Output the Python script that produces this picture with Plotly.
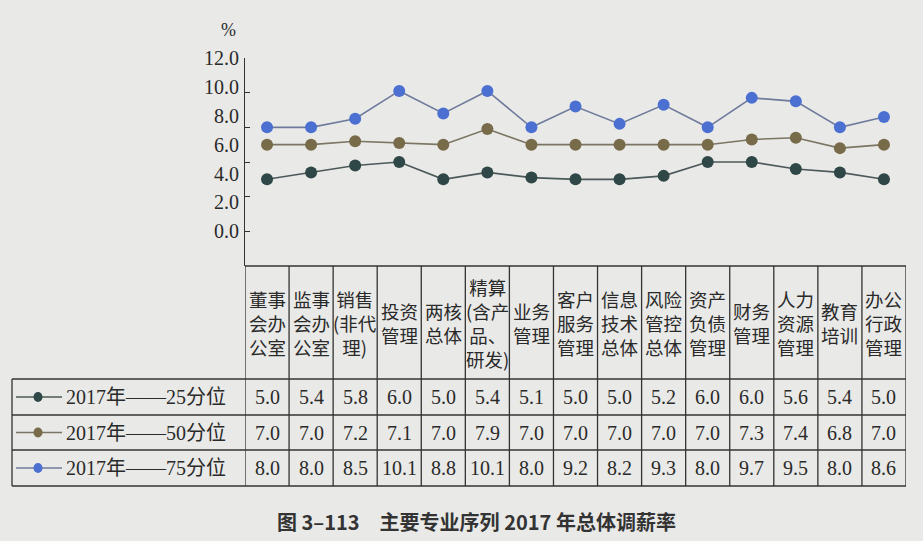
import numpy as np
import plotly.graph_objects as go

# ---------------- data ----------------
CATEGORIES = [
    "董事<br>会办<br>公室", "监事<br>会办<br>公室", "销售<br>(非代<br>理)", "投资<br>管理",
    "两核<br>总体", "精算<br>(含产<br>品、<br>研发)", "业务<br>管理", "客户<br>服务<br>管理",
    "信息<br>技术<br>总体", "风险<br>管控<br>总体", "资产<br>负债<br>管理", "财务<br>管理",
    "人力<br>资源<br>管理", "教育<br>培训", "办公<br>行政<br>管理",
]
SERIES_NAMES = ["2017年——25分位", "2017年——50分位", "2017年——75分位"]
P25 = [5.0, 5.4, 5.8, 6.0, 5.0, 5.4, 5.1, 5.0, 5.0, 5.2, 6.0, 6.0, 5.6, 5.4, 5.0]
P50 = [7.0, 7.0, 7.2, 7.1, 7.0, 7.9, 7.0, 7.0, 7.0, 7.0, 7.0, 7.3, 7.4, 6.8, 7.0]
P75 = [8.0, 8.0, 8.5, 10.1, 8.8, 10.1, 8.0, 9.2, 8.2, 9.3, 8.0, 9.7, 9.5, 8.0, 8.6]
SERIES = [P25, P50, P75]
TICK_LABELS = ["0.0", "2.0", "4.0", "6.0", "8.0", "10.0", "12.0"]
TICK_MARKS = [2, 4, 6, 8, 10, 12]
Y_UNIT = "%"
CAPTION = "图 3–113\u3000主要专业序列 2017 年总体调薪率"

# ---------------- style ----------------
W, H = 923, 541
BG = "#e9e9e7"
INK = "#2a2a2a"
MARKER_COLORS = ["#2f4747", "#776b49", "#4b70d2"]
LINE_COLORS = ["#4b5959", "#7b7563", "#6f7b9c"]
SERIF = "Liberation Serif, Noto Sans CJK SC, serif"
CJK = "Noto Sans CJK SC, sans-serif"


def px(x):
    return x / W


def py(y):
    return 1 - y / H


X_LEFT, X_RIGHT = 245, 906
Y_TOP, Y_TABLE = 58, 266
ROW_LINES = [379, 415, 450, 486]
BOX_LEFT = 12
n = len(CATEGORIES)

fig = go.Figure()
for vals, mc, lc, name in zip(SERIES, MARKER_COLORS, LINE_COLORS, SERIES_NAMES):
    fig.add_trace(go.Scatter(
        x=list(range(n)), y=vals, mode="lines+markers", name=name,
        line=dict(color=lc, width=1.6),
        marker=dict(size=12, color=mc),
        cliponaxis=False, showlegend=False,
    ))

shapes = []
ann = []
line_style = dict(color="#333333", width=1.3)

# table verticals
for i in range(n + 1):
    shapes.append(dict(type="line", xref="x", yref="paper", x0=i - 0.5, x1=i - 0.5,
                       y0=py(Y_TABLE), y1=py(ROW_LINES[-1]), line=line_style))
# table top
shapes.append(dict(type="line", xref="x", yref="paper", x0=-0.5, x1=n - 0.5,
                   y0=py(Y_TABLE), y1=py(Y_TABLE), line=line_style))
# row lines
for r in ROW_LINES:
    shapes.append(dict(type="line", xref="x", yref="paper", x0=-0.5, x1=n - 0.5,
                       y0=py(r), y1=py(r), line=line_style))
    shapes.append(dict(type="line", xref="paper", yref="paper", x0=px(BOX_LEFT), x1=px(X_LEFT),
                       y0=py(r), y1=py(r), line=line_style))
shapes.append(dict(type="line", xref="paper", yref="paper", x0=px(BOX_LEFT), x1=px(BOX_LEFT),
                   y0=py(ROW_LINES[0]), y1=py(ROW_LINES[-1]), line=line_style))

# header cells
for i, c in enumerate(CATEGORIES):
    ann.append(dict(x=i, xref="x", y=py((Y_TABLE + ROW_LINES[0]) / 2), yref="paper",
                    text=c, showarrow=False, xanchor="center", yanchor="middle",
                    font=dict(family=CJK, size=18.5, color=INK)))

# data rows + legend cells
for k, (vals, mc, lc, name) in enumerate(zip(SERIES, MARKER_COLORS, LINE_COLORS, SERIES_NAMES)):
    yc = (ROW_LINES[k] + ROW_LINES[k + 1]) / 2
    for i, v in enumerate(vals):
        ann.append(dict(x=i, xref="x", y=py(yc), yref="paper", text=f"{v:.1f}",
                        showarrow=False, xanchor="center", yanchor="middle",
                        font=dict(family=SERIF, size=20, color=INK)))
    shapes.append(dict(type="line", xref="paper", yref="paper", x0=px(16), x1=px(62),
                       y0=py(yc), y1=py(yc), line=dict(color=lc, width=1.5)))
    shapes.append(dict(type="circle", xref="paper", yref="paper", x0=px(33.5), x1=px(42.5),
                       y0=py(yc + 5), y1=py(yc - 5), fillcolor=mc, line=dict(width=0)))
    ann.append(dict(x=px(64), xref="paper", y=py(yc), yref="paper", text=name,
                    showarrow=False, xanchor="left", yanchor="middle",
                    font=dict(family=SERIF, size=20, color=INK)))

# y tick labels (placed as printed in the reference)
for lab, pos in zip(TICK_LABELS, np.linspace(TICK_MARKS[0], TICK_MARKS[-1], len(TICK_LABELS))):
    ann.append(dict(x=px(241), xref="paper", y=pos, yref="y", text=lab, showarrow=False,
                    xanchor="right", yanchor="middle",
                    font=dict(family=SERIF, size=20, color=INK)))
ann.append(dict(x=px(228), xref="paper", y=py(30), yref="paper", text=Y_UNIT, showarrow=False,
                xanchor="center", yanchor="middle", font=dict(family=SERIF, size=18, color=INK)))

# caption
ann.append(dict(x=px(476), xref="paper", y=py(521), yref="paper", text=CAPTION, showarrow=False,
                xanchor="center", yanchor="middle",
                font=dict(family=CJK, size=20, color="#333333", weight="bold")))

fig.update_layout(
    width=W, height=H, autosize=False,
    margin=dict(l=0, r=0, t=0, b=0),
    paper_bgcolor=BG, plot_bgcolor=BG,
    xaxis=dict(domain=[px(X_LEFT), px(X_RIGHT)], range=[-0.5, n - 0.5], visible=False, fixedrange=True),
    yaxis=dict(domain=[py(Y_TABLE), py(Y_TOP)], range=[0, 12], showgrid=False, zeroline=False,
               showline=True, linecolor="#333333", linewidth=1.3,
               ticks="inside", ticklen=5, tickcolor="#333333", tickwidth=1.3,
               tickvals=TICK_MARKS, showticklabels=False, fixedrange=True),
    shapes=shapes, annotations=ann,
)

fig.write_html("out.html", config={"displayModeBar": False},
               post_script="document.body.style.margin='0';document.body.style.background='%s';" % BG)
